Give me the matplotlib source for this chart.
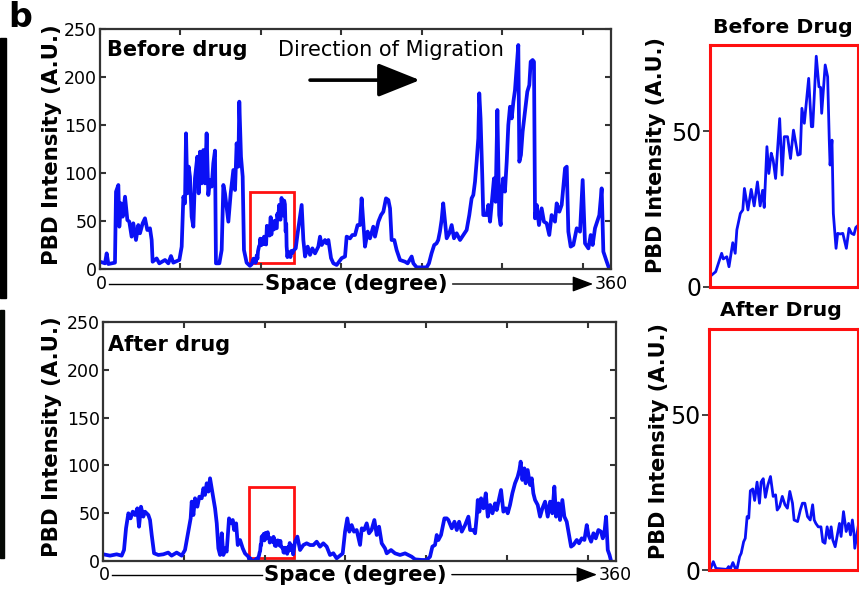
import matplotlib
matplotlib.use("Agg")
import matplotlib.pyplot as plt
from matplotlib.patches import Rectangle

# --------------------------------------
# Data
# x = position along the cell edge (samples, full circle = 635)
# --------------------------------------
before_x = [
    0, 6.2, 8.3, 10.4, 18.6, 19.9, 22.8, 24.0, 26.1, 28.2,
    31.1, 34.0, 36.4, 39.3, 41.4, 44.7, 47.6, 49.7, 53.0, 55.9,
    58.8, 62.1, 64.2, 65.4, 70.4, 73.7, 80.8, 84.9, 88.2, 91.1,
    98.6, 101.5, 103.6, 105.6, 106.9, 108.5, 110.2, 111.8, 113.9, 116.0,
    118.0, 120.9, 122.6, 124.3, 126.3, 128.4, 130.5, 132.5, 134.6, 136.7,
    138.8, 140.8, 142.9, 144.1, 148.3, 151.2, 153.3, 155.3, 159.5, 162.4,
    165.7, 167.8, 169.8, 171.9, 173.1, 175.2, 177.3, 178.9, 182.2,
    # red box region
    186.3, 188.5, 190.7, 191.3, 192.6, 193.4, 194.8, 195.7, 196.3, 197.6,
    198.5, 199.1, 200.4, 201.6, 202.7, 203.9, 204.9, 205.8, 206.4, 207.4,
    208.1, 209.0, 209.7, 210.6, 212.1, 213.0, 213.8, 215.0, 216.1, 217.2,
    218.8, 219.7, 220.3, 221.2, 222.8, 223.8, 224.3, 225.6, 226.6, 227.2,
    227.6, 228.9, 229.8, 230.4, 230.7, 231.4, 231.9, 232.9, 233.5, 234.4,
    235.4, 236.7, 237.7, 238.6, 239.5, 240.2,
    # after the box
    243.2, 245.6, 250.6, 252.7, 254.8, 258.1, 261.0, 263.9, 267.2, 271.3,
    273.4, 275.5, 279.6, 281.7, 283.8, 287.1, 290.0, 294.1, 300.3, 304.5,
    306.5, 310.7, 313.6, 316.9, 320.1, 323.1, 325.1, 327.2, 329.3, 332.6,
    335.5, 339.6, 341.7, 345.9, 349.2, 352.1, 355.4, 358.3, 360.4, 362.4,
    365.7, 368.6, 372.8, 379.0, 382.3, 387.3, 389.4, 393.5, 399.7, 405.9,
    408.8, 412.0, 415.3, 418.2, 420.3, 422.4, 424.5, 426.5,
    430.8, 434.1, 437.0, 439.9, 443.2, 447.4, 451.5, 455.6, 458.9, 461.8,
    463.9, 466.0, 468.0, 470.1, 471.3, 472.9, 475.0, 476.3, 480.4, 482.5,
    484.7, 489.6, 491.6, 493.8, 496.1, 497.9, 498.9, 501.0, 503.2, 505.4,
    507.4, 509.5, 511.6, 513.7, 515.7, 517.8, 519.8, 521.1, 523.1, 525.2,
    528.1, 531.0, 533.5, 535.2, 537.6, 539.3, 540.6, 542.7, 545.5, 548.8,
    551.7, 555.0, 558.3, 561.2, 565.4, 567.5, 570.8, 573.7, 577.9, 580.0,
    582.0, 584.9, 588.2, 592.4, 596.5, 599.8, 602.7, 606.9, 609.8, 612.2,
    615.1, 620.5, 623.4, 625.5, 629.7, 632.9,
]
before_y = [
    7.6, 5.9, 16.3, 5.2, 6.6, 80.5, 87.5, 44.1, 68.4, 54.5,
    75.3, 51.0, 49.3, 33.7, 47.6, 30.2, 45.8, 37.2, 47.6, 52.8,
    40.6, 42.4, 30.2, 7.6, 11.0, 5.9, 9.4, 5.9, 13.5, 6.6,
    9.4, 23.3, 75.3, 68.4, 141.3, 78.8, 106.6, 96.2, 54.5, 44.1,
    94.4, 117.0, 78.8, 122.2, 89.2, 123.9, 89.2, 141.3, 77.1, 92.7,
    85.8, 110.1, 123.3, 5.9, 5.9, 19.8, 87.5, 78.8, 49.3, 78.8,
    103.1, 82.3, 130.9, 106.6, 174.3, 117.0, 96.2, 19.8, 6.6,
    # red box region
    3.3, 4.9, 10.8, 9.0, 9.7, 6.5, 14.2, 10.8, 18.3, 23.6,
    24.7, 31.6, 24.7, 31.3, 26.0, 33.7, 26.0, 31.0, 25.5, 45.0,
    36.4, 42.9, 40.7, 34.8, 54.0, 35.9, 48.2, 48.2, 41.2, 50.3,
    42.3, 42.6, 57.3, 52.5, 66.9, 51.4, 51.4, 74.0, 64.2, 64.0,
    55.7, 71.2, 67.4, 47.1, 39.1, 47.1, 23.6, 12.4, 17.2, 17.0,
    17.2, 12.4, 18.8, 17.2, 16.8, 19.1,
    # after the box
    21.5, 37.2, 66.7, 30.2, 13.0, 23.3, 14.7, 21.5, 16.3, 23.3,
    33.7, 25.0, 30.2, 26.7, 30.2, 11.3, 5.9, 4.2, 11.3, 13.0,
    33.7, 31.9, 35.4, 35.4, 45.8, 45.8, 73.6, 47.6, 23.3, 39.0,
    31.9, 44.1, 33.7, 49.3, 56.2, 59.7, 73.6, 71.9, 63.2, 30.2,
    30.2, 19.8, 9.4, 7.6, 5.9, 13.0, 5.9, 1.7, 1.7, 1.7,
    5.9, 16.3, 25.0, 26.7, 30.2, 39.0, 51.0, 68.4,
    32.0, 37.2, 45.8, 32.0, 37.2, 30.2, 35.4, 40.6, 56.2, 73.6,
    77.1, 90.9, 111.8, 136.1, 183.0, 156.9, 97.9, 56.2, 56.2, 66.7,
    49.3, 94.4, 70.0, 165.6, 56.2, 45.8, 77.1, 94.4, 80.6, 111.8,
    149.9, 169.0, 156.9, 174.3, 186.4, 210.8, 233.3, 111.8, 118.8, 143.1,
    163.9, 184.7, 191.6, 215.9, 217.7, 215.9, 52.8, 66.7, 45.8, 63.2,
    49.3, 47.6, 35.4, 56.2, 49.3, 68.4, 59.7, 66.7, 104.9, 106.6,
    38.9, 23.3, 25.0, 42.4, 38.9, 92.7, 26.7, 21.5, 35.4, 25.0,
    42.4, 56.2, 84.0, 18.1, 7.6, 0.0,
]

after_x = [
    0.4, 8.7, 16.9, 23.1, 26.0, 28.5, 31.4, 34.2, 36.8, 39.6,
    42.5, 44.6, 47.0, 49.9, 52.0, 56.1, 58.2, 60.3, 63.2, 68.5,
    74.7, 80.7, 84.9, 91.2, 97.4, 101.5, 105.6, 108.5, 109.8, 111.9,
    113.9, 116.8, 119.3, 122.2, 124.3, 126.3, 128.4, 130.5, 132.5, 134.6,
    136.6, 138.7, 140.8, 142.8, 144.9, 147.0, 149.0, 151.1, 153.1, 156.0,
    158.5, 160.6, 162.3, 164.8, 166.8, 169.7, 173.0, 175.8, 180.0,
    # red box region
    181.4, 182.6, 183.6, 187.6, 188.3, 188.9, 189.9, 190.8, 191.4, 192.4,
    193.0, 193.9, 194.5, 195.2, 195.8, 196.4, 197.3, 198.0, 198.9, 199.8,
    200.4, 201.2, 202.0, 202.9, 203.9, 204.9, 205.8, 206.4, 207.3, 208.3,
    209.3, 210.2, 211.1, 212.1, 212.7, 214.0, 215.0, 215.8, 216.7, 217.7,
    218.7, 219.6, 220.2, 220.8, 221.7, 222.7, 223.4, 224.2, 225.0, 225.9,
    226.5, 227.1, 228.0, 228.7, 229.6, 230.2, 231.1, 232.1, 233.0, 233.7,
    234.4, 235.0, 235.3,
    # after the box
    237.7, 240.6, 243.9, 248.0, 252.1, 256.3, 260.4, 264.5, 268.6, 272.7,
    276.9, 281.0, 285.1, 289.2, 293.4, 296.7, 299.6, 302.4, 304.9, 307.8,
    310.7,
    314.0, 318.2, 320.3, 323.2, 326.4, 329.3, 332.4, 335.9, 338.8, 341.7,
    345.0, 349.1, 351.2, 356.5, 361.5, 367.7, 373.9, 378.0, 382.1, 386.3,
    394.5, 400.7, 404.8, 407.7, 411.0, 413.1, 415.1, 418.4, 420.5, 422.6,
    425.5, 427.5, 431.7, 435.0, 437.9, 440.8, 444.1, 448.2, 452.3, 454.4,
    458.5, 460.6, 462.6, 463.9, 465.9, 468.0, 470.9, 473.8, 476.3, 479.2,
    482.1, 485.3, 487.4, 489.5, 492.7, 495.6, 498.5, 501.0, 503.8, 506.7,
    510.0, 513.3, 515.4, 517.0, 519.1, 521.6, 523.2, 525.7, 528.6, 530.7,
    532.7, 534.8, 538.1, 541.0, 543.9, 547.2, 550.5, 553.4, 556.2, 558.7,
    560.8, 563.7, 565.7, 568.6, 571.1, 574.0, 576.1, 579.4, 582.3, 586.4,
    589.3, 592.6, 595.9, 598.8, 600.9, 604.2, 607.1, 610.0, 613.2, 616.5,
    618.6, 620.6, 622.7, 624.8, 627.0, 628.9,
]
after_y = [
    7.0, 5.6, 7.0, 5.6, 11.5, 34.2, 49.9, 44.6, 51.6, 48.1,
    55.1, 35.9, 56.8, 46.4, 51.6, 48.1, 42.9, 27.2, 8.1, 6.3,
    7.0, 8.8, 5.6, 8.8, 5.6, 11.5, 30.7, 44.6, 62.1, 48.1,
    65.6, 56.8, 67.3, 65.6, 76.1, 69.1, 81.3, 72.6, 86.5, 76.1,
    65.6, 55.1, 39.4, 13.2, 6.3, 29.0, 6.3, 13.2, 9.8, 44.6,
    39.4, 42.9, 32.4, 39.4, 16.7, 21.9, 13.2, 7.9, 4.5,
    # red box region
    0.0, 2.7, 0.5, 0.2, 1.1, 0.2, 2.4, 0.5, 0.2, 4.3,
    5.4, 9.1, 10.2, 17.2, 16.7, 25.5, 26.1, 22.4, 28.3, 21.5,
    28.3, 29.4, 23.4, 27.3, 30.1, 23.7, 24.2, 19.3, 20.4, 23.7,
    21.0, 19.9, 25.3, 21.5, 16.1, 15.6, 19.3, 21.5, 21.5, 17.2,
    16.1, 21.0, 16.1, 15.0, 13.9, 13.9, 9.1, 8.6, 13.9, 10.2,
    13.9, 9.7, 7.5, 10.8, 15.0, 10.8, 18.8, 12.4, 15.0, 11.3,
    16.1, 11.8, 7.0,
    # after the box
    20.2, 25.5, 11.5, 16.7, 18.5, 16.7, 16.7, 20.2, 15.0, 18.5,
    15.0, 6.3, 8.1, 2.8, 5.6, 7.9, 30.7, 44.6, 30.7, 37.6,
    30.7,
    32.4, 16.8, 34.2, 32.4, 39.4, 29.0, 32.4, 42.9, 27.2, 35.9,
    18.5, 13.2, 8.0, 11.5, 8.0, 6.3, 8.0, 6.3, 4.5, 1.7,
    1.1, 1.1, 4.5, 15.0, 16.8, 27.2, 21.9, 27.2, 35.9, 44.6,
    44.6, 42.9, 34.2, 41.1, 32.4, 41.1, 30.7, 37.6, 46.4, 32.4,
    32.4, 29.0, 46.4, 63.8, 51.6, 65.6, 55.1, 70.8, 46.4, 58.6,
    49.9, 60.3, 53.3, 62.1, 74.3, 51.6, 55.1, 49.9, 58.6, 70.8,
    81.3, 88.2, 95.2, 103.9, 84.8, 96.9, 81.3, 95.2, 79.5, 86.5,
    70.8, 63.8, 58.6, 46.4, 55.1, 62.1, 46.4, 62.1, 49.9, 77.8,
    46.4, 60.3, 42.9, 63.8, 46.4, 41.1, 30.7, 15.0, 16.8, 22.0,
    18.5, 23.7, 22.0, 37.6, 27.2, 20.2, 29.0, 23.7, 32.4, 30.7,
    23.7, 29.0, 46.4, 11.5, 6.3, 0.0,
]

# zoomed windows (x0, x1, y0, y1)
box_before = (186.4, 241.0, 5.9, 79.9)
box_after = (181.0, 236.5, 3.5, 77.7)

panel_labels = ["Before drug", "After drug"]
zoom_titles = ["Before Drug", "After Drug"]

# --------------------------------------
# Style
# --------------------------------------
W, H = 859, 591
BLUE = "#0a10f5"
SPINE = "#333333"
YLABEL = "PBD Intensity (A.U.)"


def fx(px):
    return px / W


def fy(py):
    return 1 - py / H


def main_panel(ax, x, y, box, label, label_pos, ylab_pos, axis_pos):
    ax.plot(x, y, color=BLUE, lw=2.7, solid_joinstyle="round")
    ax.set_xlim(0, 635)
    ax.set_ylim(0, 250)
    ax.set_xticks(range(0, 601, 100))
    ax.set_xticklabels([])
    ax.set_yticks(range(0, 251, 50))
    ax.tick_params(direction="in", top=True, right=True, length=4,
                   width=1.5, color=SPINE, labelsize=12.5, pad=2)
    for s in ax.spines.values():
        s.set_linewidth(1.6)
        s.set_color(SPINE)

    ax.add_patch(Rectangle((box[0], box[2]), box[1] - box[0], box[3] - box[2],
                           fill=False, ec="#ff1010", lw=2))

    ax.text(label_pos[0], label_pos[1], label, transform=ax.transAxes,
            ha="left", va="center", fontsize=15, fontweight="bold")
    ax.text(ylab_pos[0], ylab_pos[1], YLABEL, transform=ax.transAxes,
            rotation=90, ha="center", va="center", fontsize=15.3,
            fontweight="bold")

    # "0 ---- Space (degree) ---> 360" under the axis
    yb, x_line_end, x_mid, x_arrow0, x_tip = axis_pos
    ax.text(0.003, yb, "0", transform=ax.transAxes, ha="center",
            va="center", fontsize=12.5)
    ax.plot([0.018, x_line_end], [yb, yb], transform=ax.transAxes,
            color="black", lw=1, clip_on=False)
    ax.text(x_mid, yb, "Space (degree)", transform=ax.transAxes,
            ha="center", va="center", fontsize=15.3, fontweight="bold")
    ax.annotate("", xy=(x_tip, yb), xytext=(x_arrow0, yb),
                xycoords="axes fraction",
                arrowprops=dict(arrowstyle="-|>,head_length=0.8,head_width=0.3",
                                color="black", lw=1, mutation_scale=16,
                                shrinkA=0, shrinkB=0))
    ax.text(x_tip + 0.003, yb, "360", transform=ax.transAxes, ha="left",
            va="center", fontsize=12.5)


def zoom_panel(ax, x, y, box, title, title_pos, ylab_pos):
    ax.plot(x, y, color=BLUE, lw=2.0, solid_joinstyle="round")
    ax.set_xlim(box[0], box[1])
    ax.set_ylim(0, 77.6)
    ax.set_xticks([])
    ax.set_yticks([0, 50])
    ax.tick_params(axis="y", direction="out", length=5, width=1.2,
                   color="#222222", labelsize=17, pad=1)
    for s in ax.spines.values():
        s.set_linewidth(2.2)
        s.set_color("#ff1010")
    ax.text(title_pos[0], title_pos[1], title, transform=ax.transAxes,
            ha="center", va="center", fontsize=14.7, fontweight="bold")
    ax.text(ylab_pos[0], ylab_pos[1], YLABEL, transform=ax.transAxes,
            rotation=90, ha="center", va="center", fontsize=15,
            fontweight="bold")


# --------------------------------------
# Figure
# --------------------------------------
fig = plt.figure(figsize=(W / 100, H / 100), dpi=100)

ax_top = fig.add_axes([fx(100), fy(269), fx(511), 240 / H])
ax_bot = fig.add_axes([fx(103), fy(561), fx(513), 239 / H])
ax_ztop = fig.add_axes([fx(710), fy(287), fx(148), 242 / H])
ax_zbot = fig.add_axes([fx(709), fy(570), fx(149), 241 / H])

main_panel(ax_top, before_x, before_y, box_before, panel_labels[0],
           (0.014, 0.912), (-0.094, 0.517),
           (-0.0625, 0.318, 0.502, 0.690, 0.965))
main_panel(ax_bot, after_x, after_y, box_after, panel_labels[1],
           (0.010, 0.904), (-0.099, 0.519),
           (-0.057, 0.310, 0.492, 0.680, 0.963))

# direction of migration arrow
ax_top.text(0.569, 0.912, "Direction of Migration", transform=ax_top.transAxes,
            ha="center", va="center", fontsize=15)
ax_top.annotate("", xy=(0.626, 0.787), xytext=(0.411, 0.787),
                xycoords="axes fraction",
                arrowprops=dict(arrowstyle="-|>,head_length=1.0,head_width=0.4",
                                color="black", lw=2.6, mutation_scale=26,
                                shrinkA=0, shrinkB=0))

zoom_panel(ax_ztop, before_x, before_y, box_before, zoom_titles[0],
           (0.493, 1.074), (-0.365, 0.545))
zoom_panel(ax_zbot, after_x, after_y, box_after, zoom_titles[1],
           (0.483, 1.075), (-0.336, 0.535))

# panel letter and cropped image strips on the left edge
fig.text(fx(8), fy(1), "b", ha="left", va="top", fontsize=24,
         fontweight="bold")
fig.add_artist(Rectangle((0, fy(298)), fx(6), 260 / H, color="black",
                         transform=fig.transFigure))
fig.add_artist(Rectangle((0, fy(558)), fx(4), 248 / H, color="#050905",
                         transform=fig.transFigure))

fig.savefig("out.png", dpi=100)
